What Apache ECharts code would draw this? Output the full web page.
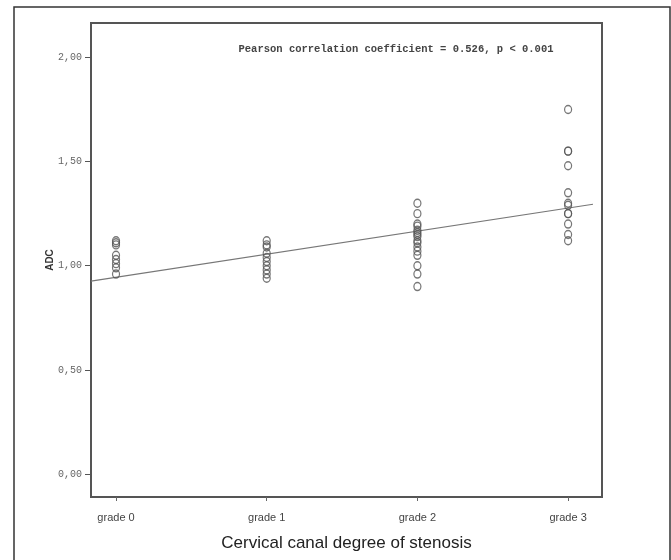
<!DOCTYPE html>
<html>
<head>
<meta charset="utf-8">
<script src="https://cdn.jsdelivr.net/npm/echarts@6/dist/echarts.min.js"></script>
<style>
  html, body { margin: 0; padding: 0; background: #fff; }
  #chart { width: 671px; height: 560px; }
</style>
</head>
<body>
<div id="chart"></div>
<script>
// grades on the x axis
const grades = [0, 1, 2, 3]
const gradeLabels = ['grade 0', 'grade 1', 'grade 2', 'grade 3']
const yTicks = [0, 0.5, 1, 1.5, 2]

// ADC values read per grade
const adcGrade0 = [1.12, 1.11, 1.10, 1.05, 1.03, 1.01, 0.99, 0.96]
const adcGrade1 = [1.12, 1.10, 1.09, 1.06, 1.04, 1.02, 1.00, 0.98, 0.96, 0.94]
const adcGrade2 = [1.30, 1.25, 1.20, 1.19, 1.17, 1.16, 1.15, 1.14, 1.12, 1.11, 1.09, 1.07, 1.05, 1.00, 0.96, 0.90]
const adcGrade3 = [1.75, 1.55, 1.55, 1.48, 1.35, 1.30, 1.29, 1.25, 1.25, 1.20, 1.15, 1.12]

// fit line endpoints
const fitX = [-0.166, 3.165]
const fitY = [0.926, 1.295]

const pointData = []
;[adcGrade0, adcGrade1, adcGrade2, adcGrade3].forEach((vals, g) => {
  vals.forEach((v) => pointData.push([grades[g], v]))
})

const chart = echarts.init(document.getElementById('chart'))

const axisColor = '#555'

chart.setOption({
  animation: false,
  title: {
    text: 'Pearson correlation coefficient = 0.526, p < 0.001',
    left: 391,
    top: 39,
    textAlign: 'center',
    textStyle: { fontFamily: 'Liberation Mono', fontSize: 10.5, fontWeight: 'bold', color: '#444' },
  },
  graphic: [
    {
      type: 'rect',
      shape: { x: 14, y: 7, width: 656, height: 600 },
      style: { fill: 'none', stroke: '#333', lineWidth: 1.5 },
      silent: true,
    },
  ],
  grid: {
    left: 91, right: 69, top: 23, bottom: 63,
    show: true, borderColor: axisColor, borderWidth: 2,
  },
  xAxis: {
    type: 'value',
    min: -0.166,
    max: 3.225,
    splitLine: { show: false },
    axisLine: { onZero: false, lineStyle: { color: axisColor, width: 2 } },
    axisTick: { show: true, length: 4, customValues: grades, lineStyle: { color: '#666' } },
    axisLabel: {
      customValues: grades,
      formatter: (v) => gradeLabels[Math.round(v)],
      fontFamily: 'Liberation Sans', fontSize: 11, color: '#444', margin: 15,
    },
    name: 'Cervical canal degree of stenosis',
    nameLocation: 'middle',
    nameGap: 38,
    nameMoveOverlap: false,
    nameTextStyle: { fontFamily: 'Liberation Sans', fontSize: 17, color: '#222' },
  },
  yAxis: {
    type: 'value',
    min: -0.11,
    max: 2.165,
    splitLine: { show: false },
    axisLine: { onZero: false, lineStyle: { color: axisColor, width: 2 } },
    axisTick: { show: true, length: 6, customValues: yTicks, lineStyle: { color: '#555' } },
    axisLabel: {
      customValues: yTicks,
      formatter: (v) => v.toFixed(2).replace('.', ','),
      fontFamily: 'Liberation Mono', fontSize: 10, color: '#666', margin: 9,
    },
    name: 'ADC',
    nameLocation: 'middle',
    nameGap: 36,
    nameMoveOverlap: false,
    nameRotate: 90,
    nameTextStyle: { fontFamily: 'Liberation Sans', fontSize: 10, fontWeight: 'bold', color: '#333' },
  },
  series: [
    {
      type: 'line',
      data: fitX.map((x, i) => [x, fitY[i]]),
      symbol: 'none',
      lineStyle: { color: '#777', width: 1.2 },
      z: 2,
    },
    {
      type: 'scatter',
      data: pointData,
      symbol: 'circle',
      symbolSize: [7, 8],
      itemStyle: { color: 'rgba(255,255,255,0)', borderColor: '#555', borderWidth: 1.3 },
      z: 3,
    },
  ],
})
</script>
</body>
</html>
